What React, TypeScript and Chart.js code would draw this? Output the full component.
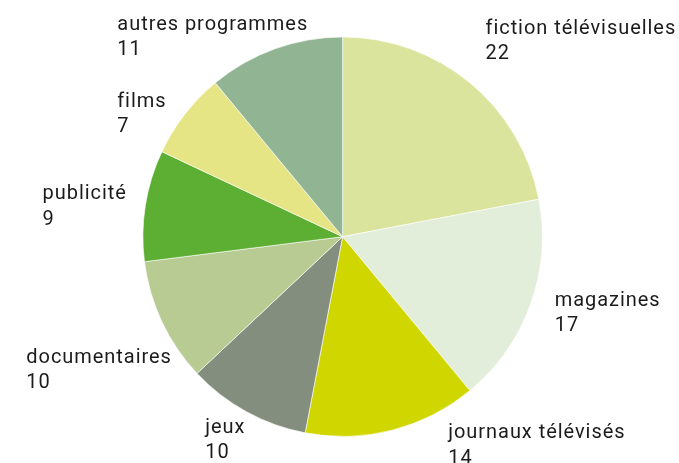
import React, { useEffect, useRef } from "react";
import { Chart, registerables } from "chart.js";

Chart.register(...registerables);

const categories = [
  "fiction télévisuelles",
  "magazines",
  "journaux télévisés",
  "jeux",
  "documentaires",
  "publicité",
  "films",
  "autres programmes",
];
const values = [22, 17, 14, 10, 10, 9, 7, 11];
const colors = [
  "#dbe49c",
  "#e2eed9",
  "#cfd600",
  "#848e7e",
  "#b7cb92",
  "#5daf33",
  "#e6e585",
  "#91b593",
];
// label offsets (left edge, first baseline) relative to each slice's outer mid-point
const labelOffsets: [number, number][] = [
  [15.6, -49.3],
  [24.2, 1.6],
  [56, 7.9],
  [-41.2, 21],
  [-135.6, 41.1],
  [-102.8, -6.4],
  [-67.6, -7.4],
  [-157.6, -19.2],
];

const FONT = '20px Roboto, "Noto Sans", sans-serif';
const LINE = 25.5;

const outsideLabels = {
  id: "outsideLabels",
  afterDraw(chart: any) {
    const ctx = chart.ctx;
    const meta = chart.getDatasetMeta(0);
    ctx.save();
    ctx.font = FONT;
    (ctx as any).letterSpacing = "0.95px";
    ctx.fillStyle = "#1b1b1b";
    ctx.textAlign = "left";
    ctx.textBaseline = "alphabetic";
    meta.data.forEach((arc: any, i: number) => {
      const p = arc.getProps(["x", "y", "startAngle", "endAngle", "outerRadius"], true);
      const mid = (p.startAngle + p.endAngle) / 2;
      const ax = p.x + Math.cos(mid) * p.outerRadius;
      const ay = p.y + Math.sin(mid) * p.outerRadius;
      const [dx, dy] = labelOffsets[i];
      const lx = ax + dx;
      const ly = ay + dy;
      ctx.fillText(String(chart.data.labels[i]), lx, ly);
      ctx.fillText(String(chart.data.datasets[0].data[i]), lx, ly + LINE);
    });
    ctx.restore();
  },
};

export default function App() {
  const ref = useRef<HTMLCanvasElement | null>(null);
  useEffect(() => {
    document.body.style.margin = "0";
    const chart = new Chart(ref.current as HTMLCanvasElement, {
      type: "pie",
      data: {
        labels: categories,
        datasets: [
          {
            data: values,
            backgroundColor: colors,
            borderColor: "#ffffff",
            borderWidth: 0.6,
          },
        ],
      },
      options: {
        responsive: false,
        animation: false,
        layout: { padding: { top: 36.7, bottom: 26.3, left: 142.6, right: 136.4 } },
        plugins: {
          legend: { display: false },
          tooltip: { enabled: false },
        },
      },
      plugins: [outsideLabels],
    });
    return () => chart.destroy();
  }, []);
  return (
    <div style={{ width: 679, height: 463, background: "#fff" }}>
      <canvas ref={ref} width={679} height={463} />
    </div>
  );
}
